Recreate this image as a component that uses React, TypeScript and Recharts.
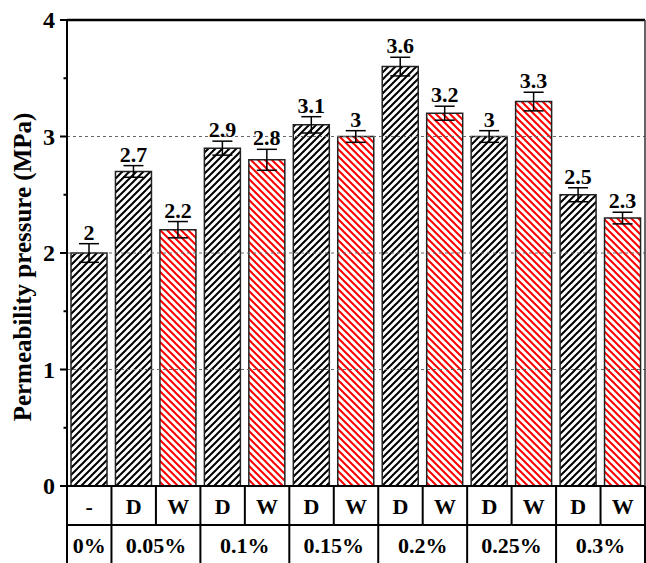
import React from 'react'
import { ComposedChart, Bar, XAxis, YAxis, ErrorBar, LabelList, Cell, ReferenceLine } from 'recharts'

const subLabels = ['-', 'D', 'W', 'D', 'W', 'D', 'W', 'D', 'W', 'D', 'W', 'D', 'W']
const groupLabels = ['0%', '0.05%', '0.1%', '0.15%', '0.2%', '0.25%', '0.3%']
const groupSpans = [1, 2, 2, 2, 2, 2, 2]
const values = [2, 2.7, 2.2, 2.9, 2.8, 3.1, 3, 3.6, 3.2, 3, 3.3, 2.5, 2.3]
const errors = [0.08, 0.05, 0.07, 0.06, 0.09, 0.07, 0.05, 0.08, 0.06, 0.05, 0.08, 0.06, 0.05]
const yTicks = [0, 0.5, 1, 1.5, 2, 2.5, 3, 3.5, 4]
const gridValues = [1, 2, 3]

const FONT = '"Liberation Serif", "Times New Roman", serif'

const data = subLabels.map((s, i) => ({
  id: i,
  sub: s,
  value: values[i],
  err: errors[i],
  wet: s === 'W',
}))

// first column index of each percentage group
const groupStarts: number[] = []
groupSpans.reduce((acc, n) => {
  groupStarts.push(acc)
  return acc + n
}, 0)

const textStyle = { fontFamily: FONT, fontWeight: 700, fontSize: 22, fill: '#000' }

const TableTick = (props: any) => {
  const { x, y, index, width, visibleTicksCount } = props
  const cw = width / visibleTicksCount
  const left = x - cw / 2
  const rowH = 39
  const g = groupStarts.indexOf(index)
  return (
    <g>
      {index === 0 && (
        <line x1={left} x2={left} y1={y} y2={y + 2 * rowH} stroke="#000" strokeWidth={2} />
      )}
      <line x1={left + cw} x2={left + cw} y1={y} y2={y + rowH} stroke="#000" strokeWidth={2} />
      <line x1={left} x2={left + cw} y1={y + rowH} y2={y + rowH} stroke="#000" strokeWidth={2} />
      <text x={x} y={y + rowH / 2 + 1} textAnchor="middle" dominantBaseline="central" style={textStyle}>
        {subLabels[index]}
      </text>
      {g >= 0 && (
        <g>
          <line
            x1={left + groupSpans[g] * cw}
            x2={left + groupSpans[g] * cw}
            y1={y + rowH}
            y2={y + 2 * rowH}
            stroke="#000"
            strokeWidth={2}
          />
          <text
            x={left + (groupSpans[g] * cw) / 2}
            y={y + rowH * 1.5 + 1}
            textAnchor="middle"
            dominantBaseline="central"
            style={textStyle}
          >
            {groupLabels[g]}
          </text>
        </g>
      )}
    </g>
  )
}

const YTick = (props: any) => {
  const { x, y, payload } = props
  const major = Number.isInteger(payload.value)
  return (
    <g>
      <line x1={x - (major ? 7 : 3.5)} x2={x} y1={y} y2={y} stroke="#000" strokeWidth={2} />
      {major && (
        <text x={x - 12} y={y} textAnchor="end" dominantBaseline="central" style={{ ...textStyle, fontSize: 24 }}>
          {payload.value}
        </text>
      )}
    </g>
  )
}

const ValueLabel = (props: any) => {
  const { x, y, width, height, value, index } = props
  const errPx = (height * errors[index]) / value
  return (
    <text x={x + width / 2} y={y - errPx - 4} textAnchor="middle" style={textStyle}>
      {value}
    </text>
  )
}

const YLabel = (props: any) => {
  const vb = props.viewBox || { x: 0, y: 20, width: 67, height: 466 }
  const cx = 22
  const cy = vb.y + vb.height / 2 + 14
  return (
    <text
      x={cx}
      y={cy}
      transform={`rotate(-90 ${cx} ${cy})`}
      textAnchor="middle"
      dominantBaseline="central"
      style={{ ...textStyle, fontSize: 25 }}
    >
      Permeability pressure (MPa)
    </text>
  )
}

export default function App() {
  return (
    <div style={{ width: 646, height: 563, background: '#fff' }}>
      <style>{'body{margin:0}'}</style>
      <ComposedChart width={646} height={563} data={data} margin={{ top: 20, right: 0, bottom: 0, left: 0 }}>
        <defs>
          <pattern id="hatchD" patternUnits="userSpaceOnUse" width="7" height="7">
            <rect width="7" height="7" fill="#fff" />
            <path d="M-1,1 l2,-2 M0,7 l7,-7 M6,8 l2,-2" stroke="#000" strokeWidth="2" />
          </pattern>
          <pattern id="hatchW" patternUnits="userSpaceOnUse" width="7" height="7">
            <rect width="7" height="7" fill="#fff" />
            <path d="M-1,6 l2,2 M0,0 l7,7 M6,-1 l2,2" stroke="#ff0000" strokeWidth="2" />
          </pattern>
        </defs>
        <XAxis
          dataKey="id"
          height={77}
          interval={0}
          tickSize={0}
          tickMargin={0}
          tickLine={false}
          tick={<TableTick />}
          axisLine={{ stroke: '#000', strokeWidth: 2 }}
        />
        <YAxis
          width={67}
          domain={[0, 4]}
          ticks={yTicks}
          interval={0}
          tickSize={0}
          tickMargin={0}
          tickLine={false}
          tick={<YTick />}
          axisLine={{ stroke: '#000', strokeWidth: 2 }}
          label={{ content: <YLabel /> }}
        />
        <YAxis
          yAxisId="r"
          orientation="right"
          width={1}
          domain={[0, 4]}
          tick={false}
          tickLine={false}
          axisLine={{ stroke: '#333', strokeWidth: 1.5 }}
        />
        {gridValues.map((v) => (
          <ReferenceLine key={v} y={v} stroke="#666" strokeWidth={1} strokeDasharray="3 3" />
        ))}
        <ReferenceLine y={4} stroke="#000" strokeWidth={2.5} />
        <Bar dataKey="value" barSize={36} stroke="#222" strokeWidth={1.5} isAnimationActive={false}>
          {data.map((d) => (
            <Cell key={d.id} fill={d.wet ? 'url(#hatchW)' : 'url(#hatchD)'} />
          ))}
          <ErrorBar dataKey="err" width={10} stroke="#000" strokeWidth={1.5} direction="y" isAnimationActive={false} />
          <LabelList dataKey="value" content={<ValueLabel />} />
        </Bar>
      </ComposedChart>
    </div>
  )
}
